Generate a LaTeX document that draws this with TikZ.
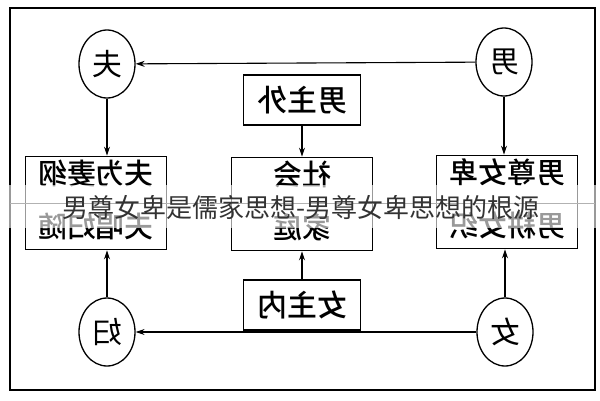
\documentclass[tikz,border=0pt]{standalone}
\usepackage{fontspec}
\usepackage{graphicx}
\setmainfont{Noto Sans CJK SC}
\newfontfamily\cjkmid{Noto Sans CJK SC Medium}
\usetikzlibrary{arrows.meta,positioning,shapes.geometric}
\newcommand{\mir}[1]{\reflectbox{#1}}
\newcommand{\twoline}[2]{\mir{\begin{tabular}{@{}c@{}}#1\\[19pt]#2\end{tabular}}}

\tikzset{
  person/.style={draw,ellipse,line width=1.3pt,minimum width=56pt,minimum height=68pt,inner sep=0pt,font=\fontsize{30}{32}\selectfont},
  rule/.style={draw,rectangle,line width=1.8pt,minimum width=117pt,minimum height=50pt,inner sep=0pt,font=\fontsize{30}{32}\cjkmid},
  result/.style={draw,rectangle,line width=1.8pt,minimum width=141pt,minimum height=93pt,inner sep=0pt,font=\fontsize{29}{30}\cjkmid},
  link/.style={line width=1.1pt,-{Stealth[length=9pt,width=6pt]}}
}

\begin{document}
\begin{tikzpicture}[x=1pt,y=-1pt]
    \useasboundingbox (0,0) rectangle (600,400);
    \draw[line width=2pt] (10,8) rectangle (595,390);
    % circles
    \node[person] (fu) at (107,64) {\mir{夫}};
    \node[person] (nan) at (504,62) {\mir{男}};
    \node[person] (fu2) at (107,332) {\mir{妇}};
    \node[person] (nv) at (505,332) {\mir{女}};
    % boxes
    \node[result] (home) at (302,204) {\raisebox{-3pt}{\twoline{社会}{家庭}}};
    \node[rule,above=31pt of home] (out) {\mir{男主外}};
    \node[rule,below=28pt of home] (in) {\mir{女主内}};
    \node[result] (wife) at (96,203) {\raisebox{-3pt}{\twoline{夫为妻纲}{夫唱妇随}}};
    \node[result] (man) at (507,202) {\raisebox{-3pt}{\twoline{男尊女卑}{男耕女织}}};
    % links
    \draw[link] (nan) -- (fu);
    \draw[link] (nv) -- (fu2);
    \draw[link] (fu) -- (fu|-wife.north);
    \draw[link] (fu2) -- (fu2|-wife.south);
    \draw[link] (nan) -- (nan|-man.north);
    \draw[link] (nv) -- (nv|-man.south);
    \draw[link] (out) -- (home);
    \draw[link] (in) -- (home);
    % watermark
    \fill[white,opacity=0.6] (0,185) rectangle (600,228);
    \draw[gray!60,line width=1pt] (10,203) -- (595,203);
    \node[text=black!80,font=\fontsize{26}{28}\selectfont] (mark) at (301,207) {男尊女卑是儒家思想-男尊女卑思想的根源};
\end{tikzpicture}
\end{document}
